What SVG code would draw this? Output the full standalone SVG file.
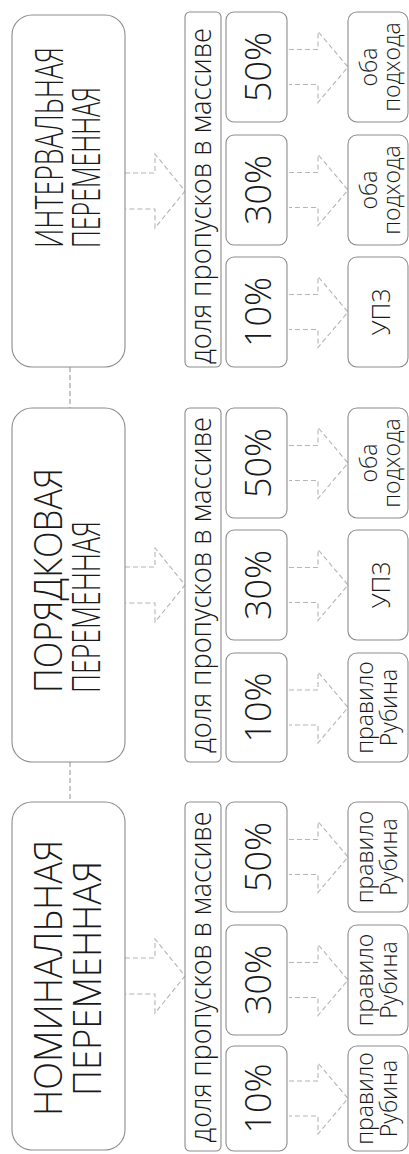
<svg xmlns="http://www.w3.org/2000/svg" width="409" height="1154" viewBox="0 0 409 1154">
<style>
.box{fill:#fff;stroke:#8c8c8c;stroke-width:1.1}
.arr{fill:none;stroke:#b4b4b4;stroke-width:1.1;stroke-dasharray:5 3}
.con{fill:none;stroke:#9a9a9a;stroke-width:1.1;stroke-dasharray:5 3}
text{font-family:"Open Sans","Liberation Sans",sans-serif;font-weight:300;fill:#1a1a1a}
.big{font-size:38px}
.dol{font-size:29px;text-anchor:middle}
.pct{font-size:36px;text-anchor:middle}
.res{font-size:23px;text-anchor:middle}
</style>
<rect width="409" height="1154" fill="#fff"/>
<g id="connectors">
<path class="con" d="M70 367V408M70 762V802"/>
<path class="arr" d="M125 173H155V154L185 191L155 228V209H125"/>
<path class="arr" d="M125 567H155V548L185 585L155 622V603H125"/>
<path class="arr" d="M125 958H155V939L185 976L155 1013V994H125"/>
<path class="arr" d="M289 49.5H318V31.5L348 67L318 102.5V84.5H289"/>
<path class="arr" d="M289 172.5H318V154.5L348 190L318 225.5V207.5H289"/>
<path class="arr" d="M289 294.5H318V276.5L348 312L318 347.5V329.5H289"/>
<path class="arr" d="M289 445.5H318V427.5L348 463L318 498.5V480.5H289"/>
<path class="arr" d="M289 567.5H318V549.5L348 585L318 620.5V602.5H289"/>
<path class="arr" d="M289 690H318V672L348 707.5L318 743V725H289"/>
<path class="arr" d="M289 839.5H318V821.5L348 857L318 892.5V874.5H289"/>
<path class="arr" d="M289 962.5H318V944.5L348 980L318 1015.5V997.5H289"/>
<path class="arr" d="M289 1081H318V1063L348 1098.5L318 1134V1116H289"/>
</g>
<g id="interval">
<rect class="box" x="12" y="15" width="113" height="352" rx="20"/>
<text class="big" transform="translate(63 248) rotate(-90)" textLength="201" lengthAdjust="spacingAndGlyphs">ИНТЕРВАЛЬНАЯ</text>
<text class="big" transform="translate(100 248) rotate(-90)" textLength="161" lengthAdjust="spacingAndGlyphs">ПЕРЕМЕННАЯ</text>
</g>
<g id="interval-share">
<rect class="box" x="185" y="12" width="36" height="355" rx="5"/>
<text class="dol" transform="translate(211 196) rotate(-90)" textLength="336" lengthAdjust="spacingAndGlyphs">доля пропусков в массиве</text>
</g>
<g id="interval-50"><rect class="box" x="226" y="12" width="61" height="110" rx="8"/><text class="pct" transform="translate(271 67) rotate(-90)">50%</text></g>
<g id="interval-30"><rect class="box" x="226" y="135" width="61" height="110" rx="8"/><text class="pct" transform="translate(271 190) rotate(-90)">30%</text></g>
<g id="interval-10"><rect class="box" x="226" y="257" width="61" height="110" rx="8"/><text class="pct" transform="translate(271 312) rotate(-90)">10%</text></g>
<g id="interval-r50"><rect class="box" x="348" y="12" width="60" height="110" rx="9"/><text class="res" transform="translate(377 67) rotate(-90)">оба</text><text class="res" transform="translate(400 67) rotate(-90)">подхода</text></g>
<g id="interval-r30"><rect class="box" x="348" y="135" width="60" height="110" rx="9"/><text class="res" transform="translate(377 190) rotate(-90)">оба</text><text class="res" transform="translate(400 190) rotate(-90)">подхода</text></g>
<g id="interval-r10"><rect class="box" x="348" y="257" width="60" height="110" rx="9"/><text class="res" style="font-size:25px" transform="translate(390 312) rotate(-90)">УПЗ</text></g>
<g id="ordinal">
<rect class="box" x="12" y="408" width="113" height="354" rx="20"/>
<text class="big" transform="translate(62 693) rotate(-90)" textLength="225" lengthAdjust="spacingAndGlyphs">ПОРЯДКОВАЯ</text>
<text class="big" transform="translate(100 693) rotate(-90)" textLength="172" lengthAdjust="spacingAndGlyphs">ПЕРЕМЕННАЯ</text>
</g>
<g id="ordinal-share">
<rect class="box" x="185" y="408" width="36" height="354" rx="5"/>
<text class="dol" transform="translate(211 585) rotate(-90)" textLength="336" lengthAdjust="spacingAndGlyphs">доля пропусков в массиве</text>
</g>
<g id="ordinal-50"><rect class="box" x="226" y="408" width="61" height="110" rx="8"/><text class="pct" transform="translate(271 463) rotate(-90)">50%</text></g>
<g id="ordinal-30"><rect class="box" x="226" y="530" width="61" height="110" rx="8"/><text class="pct" transform="translate(271 585) rotate(-90)">30%</text></g>
<g id="ordinal-10"><rect class="box" x="226" y="653" width="61" height="109" rx="8"/><text class="pct" transform="translate(271 707.5) rotate(-90)">10%</text></g>
<g id="ordinal-r50"><rect class="box" x="348" y="408" width="60" height="110" rx="9"/><text class="res" transform="translate(377 463) rotate(-90)">оба</text><text class="res" transform="translate(400 463) rotate(-90)">подхода</text></g>
<g id="ordinal-r30"><rect class="box" x="348" y="530" width="60" height="110" rx="9"/><text class="res" style="font-size:25px" transform="translate(390 585) rotate(-90)">УПЗ</text></g>
<g id="ordinal-r10"><rect class="box" x="348" y="653" width="60" height="109" rx="9"/><text class="res" transform="translate(373 707.5) rotate(-90)">правило</text><text class="res" transform="translate(397 707.5) rotate(-90)">Рубина</text></g>
<g id="nominal">
<rect class="box" x="12" y="802" width="113" height="348" rx="20"/>
<text class="big" transform="translate(62 1116) rotate(-90)" textLength="276" lengthAdjust="spacingAndGlyphs">НОМИНАЛЬНАЯ</text>
<text class="big" transform="translate(101 1096) rotate(-90)" textLength="235" lengthAdjust="spacingAndGlyphs">ПЕРЕМЕННАЯ</text>
</g>
<g id="nominal-share">
<rect class="box" x="185" y="802" width="36" height="349" rx="5"/>
<text class="dol" transform="translate(211 977) rotate(-90)" textLength="331" lengthAdjust="spacingAndGlyphs">доля пропусков в массиве</text>
</g>
<g id="nominal-50"><rect class="box" x="226" y="802" width="61" height="110" rx="8"/><text class="pct" transform="translate(271 857) rotate(-90)">50%</text></g>
<g id="nominal-30"><rect class="box" x="226" y="925" width="61" height="110" rx="8"/><text class="pct" transform="translate(271 980) rotate(-90)">30%</text></g>
<g id="nominal-10"><rect class="box" x="226" y="1046" width="61" height="105" rx="8"/><text class="pct" transform="translate(271 1098.5) rotate(-90)">10%</text></g>
<g id="nominal-r50"><rect class="box" x="348" y="802" width="60" height="110" rx="9"/><text class="res" transform="translate(373 857) rotate(-90)">правило</text><text class="res" transform="translate(397 857) rotate(-90)">Рубина</text></g>
<g id="nominal-r30"><rect class="box" x="348" y="925" width="60" height="110" rx="9"/><text class="res" transform="translate(373 980) rotate(-90)">правило</text><text class="res" transform="translate(397 980) rotate(-90)">Рубина</text></g>
<g id="nominal-r10"><rect class="box" x="348" y="1046" width="60" height="105" rx="9"/><text class="res" transform="translate(373 1098.5) rotate(-90)">правило</text><text class="res" transform="translate(397 1098.5) rotate(-90)">Рубина</text></g>
</svg>
